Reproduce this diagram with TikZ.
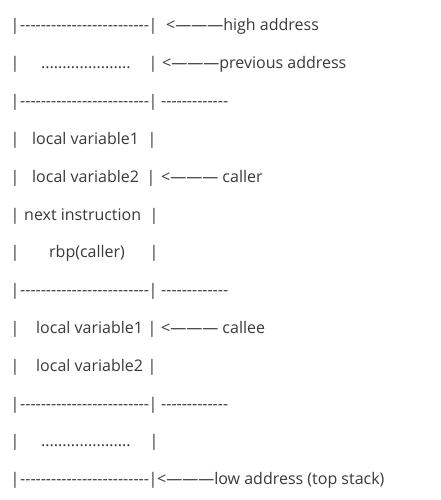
\documentclass[tikz,border=0pt]{standalone}
\usepackage{fontspec}
\newfontfamily\stackfont{Open Sans}[Ligatures=TeXOff]
\definecolor{stackgray}{HTML}{3A3A3A}
\tikzset{
  txt/.style={anchor=base west,inner sep=0pt,text=stackgray,
    font=\stackfont\fontsize{16}{19}\selectfont},
  bar/.style={txt,anchor=base},
}
\newcommand{\dashrun}{-------------------------}
\newcommand{\shortrun}{-------------}
\newcommand{\dotrun}{.....................}

\begin{document}
\begin{tikzpicture}[x=1pt,y=-1pt]
    \useasboundingbox[fill=white] (0,0) rectangle (441,500);
    % high address
    \node[bar] (l1) at (15,31) {|};
    \node[txt] (d1) at (20,31) {\dashrun};
    \node[bar] (r1) at (153,31) {|};
    \node[txt] (a1) at (166,31) {<———high address};
    % previous
    \node[bar] (l2) at (15,68.8) {|};
    \node[txt] (d2) at (41,68.8) {\dotrun};
    \node[bar] (r2) at (153,68.8) {|};
    \node[txt] (a2) at (162,68.8) {<———previous address};
    \node[bar] (l3) at (15,106.6) {|};
    \node[txt] (d3) at (20,106.6) {\dashrun};
    \node[bar] (r3) at (153,106.6) {|};
    \node[txt] (a3) at (161,106.6) {\shortrun};
    % caller frame
    \node[bar] (l4) at (15,144.4) {|};
    \node[txt] (c4) at (32,144.4) {local variable1};
    \node[bar] (r4) at (152,144.4) {|};
    \node[bar] (l5) at (15,182.2) {|};
    \node[txt] (c5) at (32,182.2) {local variable2};
    \node[bar] (r5) at (151,182.2) {|};
    \node[txt] (a5) at (161,182.2) {<——— caller};
    \node[bar] (l6) at (15,220) {|};
    \node[txt] (c6) at (24,220) {next instruction};
    \node[bar] (r6) at (154,220) {|};
    \node[bar] (l7) at (15,257.8) {|};
    \node[txt] (c7) at (49,257.8) {rbp(caller)};
    \node[bar] (r7) at (154,257.8) {|};
    \node[bar] (l8) at (15,295.6) {|};
    \node[txt] (d8) at (20,295.6) {\dashrun};
    \node[bar] (r8) at (153,295.6) {|};
    \node[txt] (a8) at (161,295.6) {\shortrun};
    % callee frame
    \node[bar] (l9) at (15,333.4) {|};
    \node[txt] (c9) at (36,333.4) {local variable1};
    \node[bar] (r9) at (152,333.4) {|};
    \node[txt] (a9) at (161,333.4) {<——— callee};
    \node[bar] (l10) at (15,371.2) {|};
    \node[txt] (c10) at (36,371.2) {local variable2};
    \node[bar] (r10) at (152,371.2) {|};
    \node[bar] (l11) at (15,409) {|};
    \node[txt] (d11) at (20,409) {\dashrun};
    \node[bar] (r11) at (153,409) {|};
    \node[txt] (a11) at (161,409) {\shortrun};
    % top of stack
    \node[bar] (l12) at (15,446.8) {|};
    \node[txt] (d12) at (41,446.8) {\dotrun};
    \node[bar] (r12) at (154,446.8) {|};
    \node[bar] (l13) at (15,484.6) {|};
    \node[txt] (d13) at (20,484.6) {\dashrun};
    \node[bar] (r13) at (153,484.6) {|};
    \node[txt] (a13) at (157,484.6) {<———low address (top stack)};
\end{tikzpicture}
\end{document}
